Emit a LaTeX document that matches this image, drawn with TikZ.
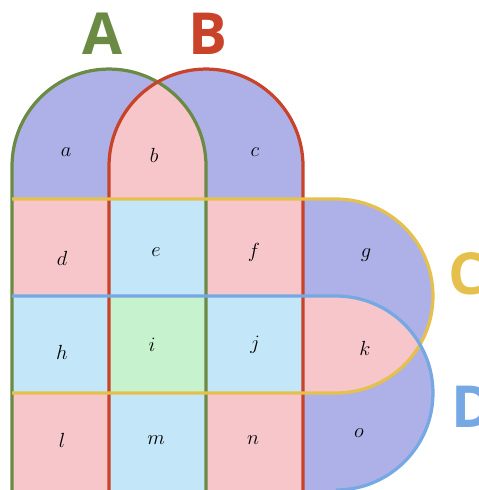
\documentclass[tikz,border=0pt]{standalone}
\usepackage{fontspec}
\newfontfamily\setfont{Open Sans}
\definecolor{lav}{HTML}{AEB1E8}
\definecolor{pnk}{HTML}{F7C6CB}
\definecolor{sky}{HTML}{C3E6F8}
\definecolor{mint}{HTML}{C7F2CE}
\definecolor{colA}{HTML}{6B8B45}
\definecolor{colB}{HTML}{C9432A}
\definecolor{colC}{HTML}{E6C04C}
\definecolor{colD}{HTML}{76A8E3}
\begin{document}
\begin{tikzpicture}[x=2cm, y=2cm, cell/.style={font=\fontsize{12}{12}\selectfont}, setname/.style={font=\setfont\bfseries\fontsize{34}{34}\selectfont, inner sep=0pt}, rim/.style={line width=1.9pt, line join=round}]
\useasboundingbox (-0.124,0) rectangle (4.814,5.052);
% fills, coloured by how many sets hold the region
\fill[lav] (0,3) -- (0,3.34) arc[start angle=180, end angle=0, radius=1] -- (2,3) -- cycle;
\fill[lav] (1,3) -- (1,3.34) arc[start angle=180, end angle=0, radius=1] -- (3,3) -- cycle;
\begin{scope}
\clip (0,3) -- (0,3.34) arc[start angle=180, end angle=0, radius=1] -- (2,3) -- cycle;
\fill[pnk] (1,3) -- (1,3.34) arc[start angle=180, end angle=0, radius=1] -- (3,3) -- cycle;
\end{scope}
\fill[lav] (3,1) -- (3.34,1) arc[start angle=-90, end angle=90, radius=1] -- (3,3) -- cycle;
\fill[lav] (3,0) -- (3.34,0) arc[start angle=-90, end angle=90, radius=1] -- (3,2) -- cycle;
\begin{scope}
\clip (3,1) -- (3.34,1) arc[start angle=-90, end angle=90, radius=1] -- (3,3) -- cycle;
\fill[pnk] (3,0) -- (3.34,0) arc[start angle=-90, end angle=90, radius=1] -- (3,2) -- cycle;
\end{scope}
\fill[pnk] (0,2) rectangle (1,3); \fill[sky] (1,2) rectangle (2,3); \fill[pnk] (2,2) rectangle (3,3);
\fill[sky] (0,1) rectangle (1,2); \fill[mint] (1,1) rectangle (2,2); \fill[sky] (2,1) rectangle (3,2);
\fill[pnk] (0,0) rectangle (1,1); \fill[sky] (1,0) rectangle (2,1); \fill[pnk] (2,0) rectangle (3,1);
% outlines
\draw[rim, colA] (0,0) -- (0,3.34) arc[start angle=180, end angle=0, radius=1] -- (2,0);
\draw[rim, colB] (1,0) -- (1,3.34) arc[start angle=180, end angle=0, radius=1] -- (3,0);
\draw[rim, colC] (0,3) -- (3.34,3) arc[start angle=90, end angle=-90, radius=1] -- (0,1);
\draw[rim, colD] (0,2) -- (3.34,2) arc[start angle=90, end angle=-90, radius=1];
% set names
\node[setname, colA] (nA) at (0.93,4.70) {A};
\node[setname, colB] (nB) at (2.02,4.70) {B};
\node[setname, colC, anchor=west] (nC) at (4.50,2.23) {C};
\node[setname, colD, anchor=west] (nD) at (4.53,0.86) {D};
% region names
\node[cell] (a) at (0.557,3.485) {$a$};
\node[cell] (b) at (1.464,3.454) {$b$};
\node[cell] (c) at (2.505,3.485) {$c$};
\node[cell] (d) at (0.515,2.392) {$d$};
\node[cell] (e) at (1.485,2.454) {$e$};
\node[cell] (f) at (2.495,2.454) {$f$};
\node[cell] (g) at (3.649,2.423) {$g$};
\node[cell] (h) at (0.515,1.423) {$h$};
\node[cell] (i) at (1.443,1.495) {$i$};
\node[cell] (j) at (2.505,1.495) {$j$};
\node[cell] (k) at (3.639,1.464) {$k$};
\node[cell] (l) at (0.515,0.515) {$l$};
\node[cell] (m) at (1.485,0.515) {$m$};
\node[cell] (n) at (2.485,0.515) {$n$};
\node[cell] (o) at (3.577,0.588) {$o$};
\end{tikzpicture}
\end{document}
